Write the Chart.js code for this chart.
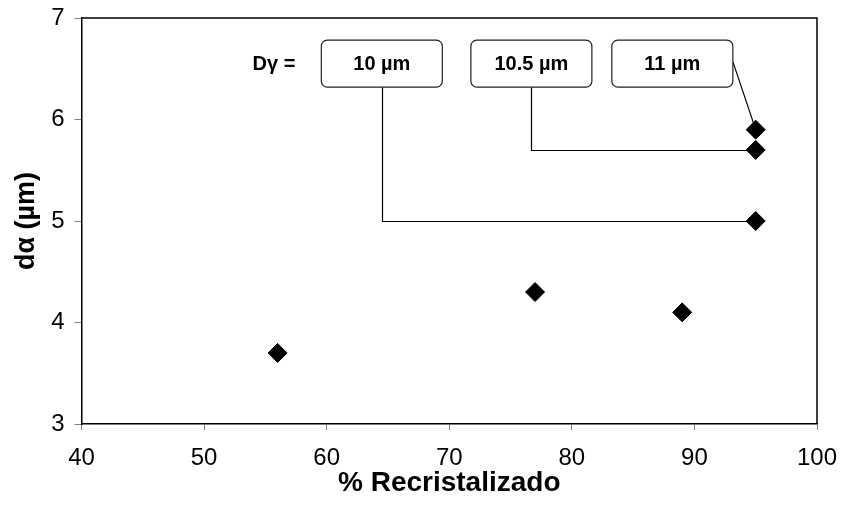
<!DOCTYPE html>
<html>
<head>
<meta charset="utf-8">
<script src="https://cdn.jsdelivr.net/npm/chart.js@4/dist/chart.umd.min.js"></script>
<style>
  html, body { margin: 0; padding: 0; background: #fff; }
  #wrap { width: 841px; height: 506px; }
</style>
</head>
<body>
<div id="wrap"><canvas id="c" width="841" height="506"></canvas></div>
<script>
// Recrystallized fraction (%) and resulting ferrite grain size (µm)
const pctRecrystallized = [56, 77, 89, 95, 95, 95];
const alphaGrainSize = [3.7, 4.3, 4.1, 5.0, 5.7, 5.9];

// Prior austenite grain size labels and the points they point to
const gammaLabels = ['10 µm', '10.5 µm', '11 µm'];
const gammaPointIndex = [3, 4, 5];

// Axis ticks
const xTicks = [40, 50, 60, 70, 80, 90, 100];
const yTicks = [3, 4, 5, 6, 7];

// Callout box layout (box centres in data units, sizes in px)
const calloutBoxX = [64.5, 76.7, 88.2];
const calloutBoxY = 6.55;
const boxW = 121, boxH = 47;

const FONT = 'Liberation Sans, Arial, Helvetica, sans-serif';

const frameAndCallouts = {
  id: 'frameAndCallouts',
  beforeDatasetsDraw(chart) {
    const { ctx, scales: { x, y } } = chart;
    ctx.save();
    ctx.strokeStyle = '#000';
    ctx.lineWidth = 1.2;
    gammaLabels.forEach((lab, i) => {
      const idx = gammaPointIndex[i];
      const px = x.getPixelForValue(pctRecrystallized[idx]);
      const py = y.getPixelForValue(alphaGrainSize[idx]);
      const bx = x.getPixelForValue(calloutBoxX[i]);
      const by = y.getPixelForValue(calloutBoxY);
      ctx.beginPath();
      if (i < 2) {
        // elbow leader: down from the box, then across to the point
        ctx.moveTo(Math.round(bx) + 0.5, by + boxH / 2);
        ctx.lineTo(Math.round(bx) + 0.5, Math.round(py) + 0.5);
        ctx.lineTo(px, Math.round(py) + 0.5);
      } else {
        // straight leader from the right edge of the box
        ctx.moveTo(bx + boxW / 2, by - 2);
        ctx.lineTo(px, py);
      }
      ctx.stroke();
    });
    ctx.restore();
  },
  afterDatasetsDraw(chart) {
    const { ctx, chartArea: a, scales: { x, y } } = chart;
    ctx.save();
    // top and right edges of the plot frame
    ctx.strokeStyle = '#000';
    ctx.lineWidth = 1.5;
    ctx.beginPath();
    ctx.moveTo(a.left, a.top);
    ctx.lineTo(a.right, a.top);
    ctx.lineTo(a.right, a.bottom);
    ctx.stroke();

    // callout boxes
    ctx.font = 'bold 20px ' + FONT;
    ctx.textAlign = 'center';
    ctx.textBaseline = 'middle';
    gammaLabels.forEach((lab, i) => {
      const bx = x.getPixelForValue(calloutBoxX[i]);
      const by = y.getPixelForValue(calloutBoxY);
      ctx.beginPath();
      ctx.roundRect(bx - boxW / 2, by - boxH / 2, boxW, boxH, 6);
      ctx.fillStyle = '#fff';
      ctx.fill();
      ctx.strokeStyle = '#222';
      ctx.lineWidth = 1.2;
      ctx.stroke();
      ctx.fillStyle = '#000';
      ctx.fillText(lab, bx, by + 1);
    });

    // prefix label
    const firstBox = x.getPixelForValue(calloutBoxX[0]) - boxW / 2;
    ctx.textAlign = 'right';
    ctx.fillText('Dγ =', firstBox - 26, y.getPixelForValue(calloutBoxY) + 1);
    ctx.restore();
  }
};

// keep the plot area fixed: ignore the extra room Chart.js reserves for overhanging labels
function fixX(s) { s.height = 82; s.paddingLeft = 0; s.paddingRight = 0; }
function fixY(s) { s.width = 81.5; s.paddingTop = 0; s.paddingBottom = 0; }

new Chart(document.getElementById('c'), {
  type: 'scatter',
  data: {
    datasets: [{
      data: pctRecrystallized.map((v, i) => ({ x: v, y: alphaGrainSize[i] })),
      pointStyle: 'rectRot',
      pointRadius: 9.5,
      pointHoverRadius: 9.5,
      backgroundColor: '#000',
      borderColor: '#000',
      borderWidth: 1
    }]
  },
  options: {
    responsive: false,
    animation: false,
    events: [],
    layout: { padding: { top: 18, right: 24, left: 0, bottom: 0 } },
    plugins: { legend: { display: false }, tooltip: { enabled: false } },
    scales: {
      x: {
        type: 'linear',
        min: 40, max: 100,
        afterBuildTicks: s => { s.ticks = xTicks.map(v => ({ value: v })); },
        afterFit: fixX,
        grid: { drawOnChartArea: false, tickLength: 6, color: '#808080', tickWidth: 1 },
        border: { color: '#000', width: 1.5 },
        ticks: { color: '#000', padding: 14, font: { family: FONT, size: 24 }, maxRotation: 0 },
        title: { display: true, text: '% Recristalizado', color: '#000',
                 font: { family: FONT, size: 28, weight: 'bold' }, padding: { top: 0, bottom: 6 } }
      },
      y: {
        type: 'linear',
        min: 3, max: 7,
        afterBuildTicks: s => { s.ticks = yTicks.map(v => ({ value: v })); },
        afterFit: fixY,
        grid: { drawOnChartArea: false, tickLength: 7, color: '#808080', tickWidth: 1 },
        border: { color: '#000', width: 1.5 },
        ticks: { color: '#000', padding: 10, font: { family: FONT, size: 24 } },
        title: { display: true, text: 'dα (µm)', color: '#000',
                 font: { family: FONT, size: 27, weight: 'bold' }, padding: { top: 10, bottom: 0 } }
      }
    }
  },
  plugins: [frameAndCallouts]
});
</script>
</body>
</html>
